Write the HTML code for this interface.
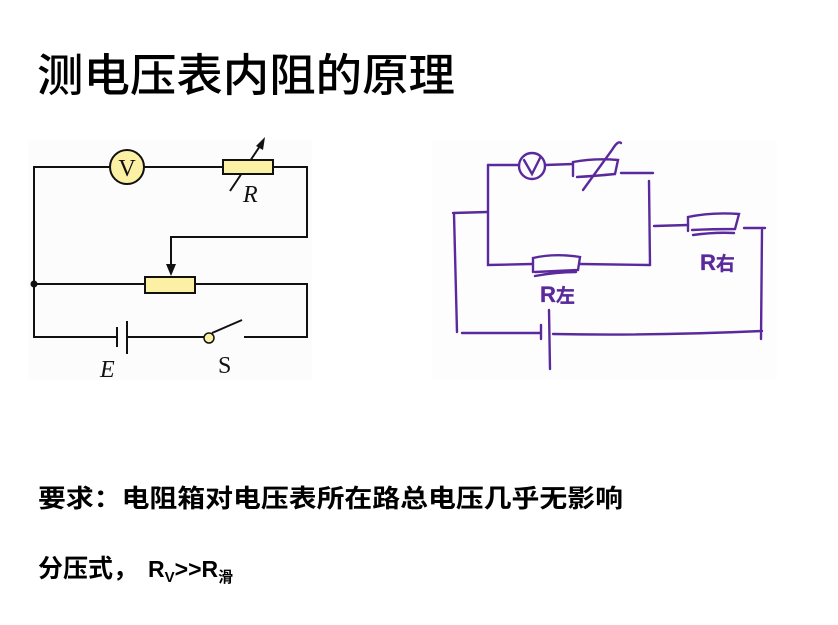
<!DOCTYPE html>
<html><head><meta charset="utf-8"><style>
html,body{margin:0;padding:0;background:#fff;}
svg{display:block;}
.cj{font-family:"Liberation Sans","Noto Sans CJK SC",sans-serif;}
</style></head><body>
<svg width="838" height="625" viewBox="0 0 838 625" xmlns="http://www.w3.org/2000/svg">
<rect width="838" height="625" fill="#fff"/>
<text class="cj" x="37" y="91" font-size="45" font-weight="500" textLength="418" lengthAdjust="spacingAndGlyphs" fill="#000">测电压表内阻的原理</text>

<rect x="28" y="140" width="284" height="240" fill="#fcfcfc"/>
<g stroke="#111" stroke-width="2" fill="none">
<polyline points="110,167 34,167 34,337 117,337"/>
<line x1="144" y1="167" x2="223" y2="167"/>
<polyline points="273,167 307,167 307,237 171,237 171,268"/>
<line x1="34" y1="284" x2="145" y2="284"/>
<polyline points="195,284 307,284 307,337 244,337"/>
<line x1="127" y1="337" x2="204" y2="337"/>
<line x1="117" y1="327" x2="117" y2="347" stroke-width="2"/>
<line x1="127" y1="321" x2="127" y2="354"/>
<line x1="212" y1="333" x2="242" y2="320"/>
<line x1="230" y1="191" x2="262" y2="143"/>
</g>
<polygon points="171,276 166,264 176,264" fill="#111"/>
<polygon points="265,137 256,146 263,150" fill="#111"/>
<circle cx="34" cy="284" r="3.5" fill="#111"/>
<circle cx="127" cy="167" r="17" fill="#fbf0a4" stroke="#111" stroke-width="2"/>
<text x="127" y="176" font-family="Liberation Serif,serif" font-size="24" text-anchor="middle" fill="#111">V</text>
<rect x="223" y="160" width="50" height="14" fill="#fbf0a4" stroke="#111" stroke-width="2"/>
<rect x="145" y="277" width="50" height="16" fill="#fbf0a4" stroke="#111" stroke-width="2"/>
<circle cx="209" cy="338" r="5" fill="#fbf0a4" stroke="#111" stroke-width="1.5"/>
<text x="243" y="202" font-family="Liberation Serif,serif" font-style="italic" font-size="24" fill="#111">R</text>
<text x="100" y="377" font-family="Liberation Serif,serif" font-style="italic" font-size="24" fill="#111">E</text>
<text x="218" y="373" font-family="Liberation Serif,serif" font-size="24" fill="#111">S</text>

<rect x="432" y="140" width="345" height="240" fill="#fdfdfd"/>
<g stroke="#5a2a9c" stroke-width="2.4" fill="none" stroke-linecap="round">
<polyline points="488,165 488,265 532,264"/>
<line x1="488" y1="165" x2="519" y2="165"/>
<circle cx="532" cy="166" r="13"/>
<path d="M524,160 L532,174 L540,158"/>
<line x1="545" y1="165" x2="573" y2="164"/>
<path d="M573,176 L573,162 Q595,158 618,160 L615,174 Q595,176 577,177"/>
<path d="M583,190 L612,150 Q618,140 621,143"/>
<line x1="621" y1="173" x2="653" y2="173"/>
<line x1="649" y1="181" x2="650" y2="265"/>
<path d="M533,272 L533,258 Q555,253 580,257 L578,270 Q555,271 535,272"/>
<line x1="580" y1="264" x2="650" y2="265"/>
<path d="M535,276 Q556,272 576,272"/>
<line x1="453" y1="213" x2="487" y2="212"/>
<line x1="454" y1="214" x2="457" y2="332"/>
<line x1="462" y1="333" x2="540" y2="333"/>
<line x1="541" y1="325" x2="541" y2="339"/>
<line x1="549" y1="310" x2="550" y2="369"/>
<path d="M553,334 Q650,336 762,331"/>
<line x1="762" y1="230" x2="761" y2="339"/>
<line x1="654" y1="226" x2="688" y2="225"/>
<path d="M688,231 L688,217 Q712,212 739,214 L735,229 Q712,229 692,230"/>
<path d="M693,235 Q715,232 734,233"/>
<line x1="744" y1="228" x2="765" y2="228"/>
</g>
<text class="cj" x="540" y="302" font-size="22" font-weight="bold" fill="#5a2a9c" stroke="#5a2a9c" stroke-width="0.3">R<tspan font-size="19">左</tspan></text>
<text class="cj" x="700" y="270" font-size="22" font-weight="bold" fill="#5a2a9c" stroke="#5a2a9c" stroke-width="0.3">R<tspan font-size="19">右</tspan></text>

<text class="cj" x="38" y="507" font-size="25" font-weight="bold" textLength="585" lengthAdjust="spacingAndGlyphs" fill="#000">要求：电阻箱对电压表所在路总电压几乎无影响</text>
<text class="cj" x="38" y="577" font-size="25" font-weight="bold" fill="#000">分压式，</text>
<text class="cj" x="148" y="577" font-size="23" font-weight="bold" fill="#000">R<tspan font-size="15" dy="5">V</tspan><tspan dy="-5">&gt;&gt;R</tspan><tspan font-size="15" dy="5">滑</tspan></text>
</svg>
</body></html>
